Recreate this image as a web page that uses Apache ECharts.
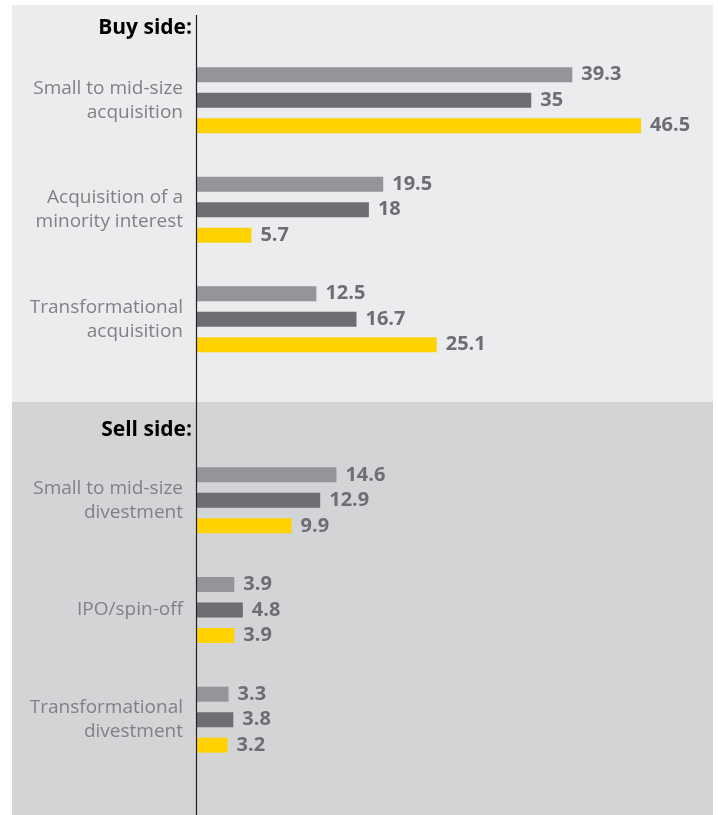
<!DOCTYPE html>
<html>
<head>
<meta charset="utf-8">
<script src="https://cdn.jsdelivr.net/npm/echarts@6/dist/echarts.min.js"></script>
<style>
  html, body { margin: 0; padding: 0; background: #ffffff; }
  #chart { width: 718px; height: 815px; }
</style>
</head>
<body>
<div id="chart"></div>
<script>
// Deal types, split into buy side and sell side
const buyCategories = ['Small to mid-size\nacquisition', 'Acquisition of a\nminority interest', 'Transformational\nacquisition'];
const sellCategories = ['Small to mid-size\ndivestment', 'IPO/spin-off', 'Transformational\ndivestment'];

// Percentages for the three survey series
const buyLight = [39.3, 19.5, 12.5];
const buyDark = [35, 18, 16.7];
const buyYellow = [46.5, 5.7, 25.1];

const sellLight = [14.6, 3.9, 3.3];
const sellDark = [12.9, 4.8, 3.8];
const sellYellow = [9.9, 3.9, 3.2];

const sectionTitles = ['Buy side:', 'Sell side:'];

const colors = ['#939598', '#6d6e71', '#ffd200'];
const fontFamily = '"Open Sans", "Noto Sans", sans-serif';

const chart = echarts.init(document.getElementById('chart'));

function xAxisFor(gridIndex) {
  return {
    type: 'value', gridIndex: gridIndex, min: 0, max: 50,
    show: false
  };
}
function yAxisFor(gridIndex, cats) {
  return {
    type: 'category', gridIndex: gridIndex, data: cats, inverse: true,
    axisLine: { show: false }, axisTick: { show: false },
    axisLabel: {
      color: '#808184', fontSize: 19, lineHeight: 24, margin: 14,
      fontFamily: fontFamily, align: 'right'
    }
  };
}
function barSeries(idx, gridIndex, data) {
  return {
    type: 'bar', xAxisIndex: gridIndex, yAxisIndex: gridIndex,
    data: data, barWidth: 15, barGap: '70%',
    itemStyle: { color: colors[idx] },
    label: {
      show: true, position: 'right', distance: 9,
      color: '#6d6e71', fontWeight: 'bold', fontSize: 20, fontFamily: fontFamily
    },
    silent: true, animation: false
  };
}

chart.setOption({
  animation: false,
  graphic: [
    { type: 'rect', shape: { x: 12, y: 5, width: 701, height: 397 }, style: { fill: '#ebeced' }, z: -10 },
    { type: 'rect', shape: { x: 12, y: 402, width: 701, height: 413 }, style: { fill: '#d3d4d6' }, z: -10 },
    { type: 'line', shape: { x1: 196.5, y1: 15, x2: 196.5, y2: 815 }, style: { stroke: '#231f20', lineWidth: 1.2 }, z: 10 },
    { type: 'text', x: 192, y: 28, style: { text: sectionTitles[0], fill: '#000000', font: 'bold 21px ' + fontFamily, textAlign: 'right', textVerticalAlign: 'middle' } },
    { type: 'text', x: 192, y: 430, style: { text: sectionTitles[1], fill: '#000000', font: 'bold 21px ' + fontFamily, textAlign: 'right', textVerticalAlign: 'middle' } }
  ],
  grid: [
    { left: 197, right: 43.5, top: 45.5, height: 328.5 },
    { left: 197, right: 43.5, top: 445.5, height: 329 }
  ],
  xAxis: [xAxisFor(0), xAxisFor(1)],
  yAxis: [yAxisFor(0, buyCategories), yAxisFor(1, sellCategories)],
  series: [
    barSeries(0, 0, buyLight),
    barSeries(1, 0, buyDark),
    barSeries(2, 0, buyYellow),
    barSeries(0, 1, sellLight),
    barSeries(1, 1, sellDark),
    barSeries(2, 1, sellYellow)
  ]
});
</script>
</body>
</html>
